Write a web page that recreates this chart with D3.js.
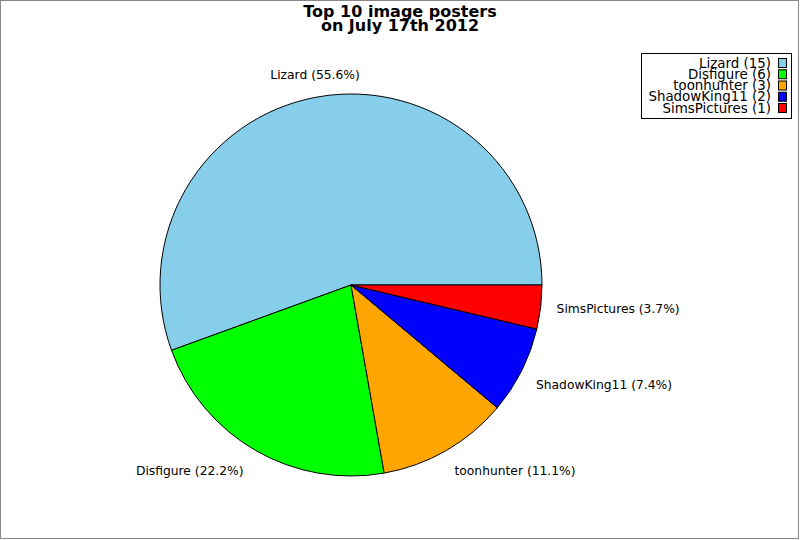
<!DOCTYPE html>
<html>
<head>
<meta charset="utf-8">
<script src="https://cdn.jsdelivr.net/npm/d3@7"></script>
<style>
body { margin: 0; background: #fff; }
svg { display: block; font-family: "DejaVu Sans", sans-serif; }
</style>
</head>
<body>
<div id="chart"></div>
<script>
var names = ["Lizard", "Disfigure", "toonhunter", "ShadowKing11", "SimsPictures"]
var counts = [15, 6, 3, 2, 1]
var colors = ["#87ceeb", "#00ff00", "#ffa500", "#0000ff", "#ff0000"]
var titleLines = ["Top 10 image posters", "on July 17th 2012"]

var W = 800, H = 540
var cx = 351, cy = 285, R = 191

var svg = d3.select("#chart").append("svg")
	.attr("width", W)
	.attr("height", H)

svg.append("rect")
	.attr("x", 0.5).attr("y", 0.5)
	.attr("width", W - 2).attr("height", H - 2)
	.style("fill", "#fff")
	.style("stroke", "#888")

svg.selectAll("text.title").data(titleLines).enter().append("text")
	.attr("class", "title")
	.attr("x", 400)
	.attr("y", function(d, i){ return 17 + i * 14; })
	.attr("text-anchor", "middle")
	.style("font-weight", "bold")
	.style("font-size", "16px")
	.text(function(d){ return d; })

var total = d3.sum(counts)
var data = names.map(function(n, i){ return {name: n, count: counts[i], color: colors[i]}; })

// start at 3 o'clock, go counterclockwise
var pie = d3.pie().sort(null)
	.value(function(d){ return d.count; })
	.startAngle(Math.PI / 2)
	.endAngle(Math.PI / 2 - 2 * Math.PI)

var arc = d3.arc().innerRadius(0).outerRadius(R)
var g = svg.append("g").attr("transform", "translate(" + cx + "," + cy + ")")

var arcs = pie(data)

g.selectAll("path").data(arcs).enter().append("path")
	.attr("d", arc)
	.style("fill", function(d){ return d.data.color; })
	.style("stroke", "#000")
	.style("stroke-width", 1)

var LR = 207
g.selectAll("text.lbl").data(arcs).enter().append("text")
	.attr("class", "lbl")
	.each(function(d){
		var a = (d.startAngle + d.endAngle) / 2
		var sx = Math.sin(a), sy = -Math.cos(a)
		var t = d3.select(this)
		t.attr("x", sx * LR - (sx < -0.3 ? 4 : 0)).attr("y", sy * LR)
			.attr("text-anchor", sx > 0.3 ? "start" : sx < -0.3 ? "end" : "middle")
			.attr("dy", sy < -0.3 ? "-0.2em" : sy > 0.3 ? "0.9em" : "0.35em")
	})
	.style("font-size", "12.3px")
	.text(function(d){ return d.data.name + " (" + (d.data.count / total * 100).toFixed(1) + "%)"; })

// legend
var lg = svg.append("g")
lg.append("rect")
	.attr("x", 641.5).attr("y", 53.5)
	.attr("width", 150).attr("height", 65)
	.style("fill", "#fff").style("stroke", "#000")

var ly = d3.scaleLinear().domain([0, names.length - 1]).range([63, 108])
var items = lg.selectAll("g.item").data(data).enter().append("g").attr("class", "item")
items.append("text")
	.attr("x", 771)
	.attr("y", function(d, i){ return ly(i) + 4.5; })
	.attr("text-anchor", "end")
	.style("font-size", "13.4px")
	.text(function(d){ return d.name + " (" + d.count + ")"; })
items.append("rect")
	.attr("x", 778.5)
	.attr("y", function(d, i){ return ly(i) - 4.5; })
	.attr("width", 8).attr("height", 9)
	.style("fill", function(d){ return d.color; })
	.style("stroke", "#000")
</script>
</body>
</html>
